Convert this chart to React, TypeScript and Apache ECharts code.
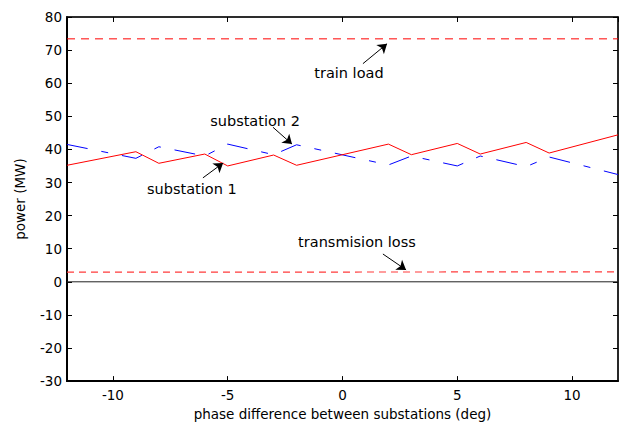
import React, { useEffect, useRef } from "react";
import * as echarts from "echarts";

const phase = [-12, -9, -8, -6, -5, -3, -2, 2, 3, 5, 6, 8, 9, 12];
const substation1 = [35.2, 39.3, 35.8, 38.6, 35.0, 38.3, 35.2, 41.6, 38.4, 41.8, 38.6, 42.1, 38.9, 44.4];
const substation2 = [41.5, 37.3, 40.8, 38.0, 41.6, 38.4, 41.4, 35.3, 38.0, 35.0, 38.0, 34.8, 37.7, 32.4];
const lineX = [-12, 12];
const trainLoad = [73.4, 73.4];
const transmissionLoss = [2.9, 3.0];
const zeroLine = [0, 0];

// annotation texts and arrows (data coordinates)
const noteTexts = ["train load", "substation 2", "substation 1", "transmision loss"];
const noteX = [0.28, -3.81, -6.56, 0.63];
const noteY = [63.2, 48.5, 28.1, 12.0];
const arrowFrom = [[0.89, 65.9], [-3.03, 46.7], [-6.08, 31.4], [1.76, 8.4]];
const arrowTo = [[1.94, 71.9], [-2.2, 41.6], [-5.2, 35.9], [2.77, 3.6]];

const FONT = "DejaVu Sans";

export default function App() {
  const ref = useRef<HTMLDivElement>(null);
  useEffect(() => {
    if (!ref.current) return;
    const chart = echarts.init(ref.current, null, { renderer: "svg" });
    const pair = (xs: number[], ys: number[]) => xs.map((x, i) => [x, ys[i]]);
    chart.setOption({
      animation: false,
      backgroundColor: "#fff",
      grid: {
        left: 67,
        right: 2,
        top: 17,
        bottom: 42,
        show: true,
        borderColor: "#111",
        borderWidth: 1.2,
      },
      xAxis: [
        {
          type: "value",
          min: -12,
          max: 12,
          position: "bottom",
          splitLine: { show: false },
          name: "phase difference between substations (deg)",
          nameLocation: "middle",
          nameGap: 22,
          nameTextStyle: { fontFamily: FONT, fontSize: 13.5, color: "#000" },
          axisLine: { onZero: false, lineStyle: { color: "#000", width: 2 } },
          axisTick: { show: true, inside: true, length: 5, lineStyle: { color: "#000", width: 1 } },
          axisLabel: {
            fontFamily: FONT,
            fontSize: 13.5,
            color: "#000",
            margin: 7,
            showMinLabel: false,
            showMaxLabel: false,
          },
        },
        {
          type: "value",
          min: -12,
          max: 12,
          position: "top",
          splitLine: { show: false },
          axisLine: { show: true, onZero: false, lineStyle: { color: "#111", width: 1.5 } },
          axisTick: { show: true, inside: true, length: 5, lineStyle: { color: "#000", width: 1 } },
          axisLabel: { show: false },
        },
      ],
      yAxis: [
        {
          type: "value",
          min: -30,
          max: 80,
          interval: 10,
          position: "left",
          splitLine: { show: false },
          name: "power (MW)",
          nameLocation: "middle",
          nameGap: 40,
          nameTextStyle: { fontFamily: FONT, fontSize: 13.5, color: "#000" },
          axisLine: { show: true, onZero: false, lineStyle: { color: "#000", width: 2 } },
          axisTick: { show: true, inside: true, length: 5, lineStyle: { color: "#000", width: 1 } },
          axisLabel: { fontFamily: FONT, fontSize: 13.5, color: "#000", margin: 5 },
        },
        {
          type: "value",
          min: -30,
          max: 80,
          interval: 10,
          position: "right",
          splitLine: { show: false },
          axisLine: { show: true, onZero: false, lineStyle: { color: "#111", width: 1.5 } },
          axisTick: { show: true, inside: true, length: 5, lineStyle: { color: "#000", width: 1 } },
          axisLabel: { show: false },
        },
      ],
      series: [
        {
          name: "zero",
          type: "line",
          xAxisIndex: 1,
          yAxisIndex: 1,
          data: pair(lineX, zeroLine),
          symbol: "none",
          lineStyle: { color: "#222", width: 1 },
        },
        {
          name: "train load",
          type: "line",
          data: pair(lineX, trainLoad),
          symbol: "none",
          lineStyle: { color: "#ff0000", width: 1, type: [8, 6] },
        },
        {
          name: "transmision loss",
          type: "line",
          data: pair(lineX, transmissionLoss),
          symbol: "none",
          lineStyle: { color: "#ff3b3b", width: 1.2, type: [7, 5] },
        },
        {
          name: "substation 2",
          type: "line",
          data: pair(phase, substation2),
          symbol: "none",
          lineStyle: { color: "#0000ff", width: 1, type: [21, 14, 7, 14] },
        },
        {
          name: "substation 1",
          type: "line",
          data: pair(phase, substation1),
          symbol: "none",
          lineStyle: { color: "#ff0000", width: 1 },
          markLine: {
            silent: true,
            symbol: ["none", "arrow"],
            symbolSize: 9,
            precision: 2,
            label: { show: false },
            lineStyle: { color: "#000", width: 1, type: "solid" },
            emphasis: { disabled: true },
            data: arrowFrom.map((f, i) => [
              { coord: f },
              { coord: arrowTo[i] },
            ]),
          },
          markPoint: {
            silent: true,
            symbol: "circle",
            symbolSize: 1,
            itemStyle: { color: "rgba(0,0,0,0)" },
            label: {
              show: true,
              position: "inside",
              color: "#000",
              fontFamily: FONT,
              fontSize: 14.5,
            },
            data: noteTexts.map((t, i) => ({
              name: t,
              coord: [noteX[i], noteY[i]],
              label: { formatter: t },
            })),
          },
        },
      ],
    });
    return () => chart.dispose();
  }, []);
  return <div ref={ref} style={{ width: 620, height: 426, position: "absolute", left: 0, top: 0 }} />;
}
